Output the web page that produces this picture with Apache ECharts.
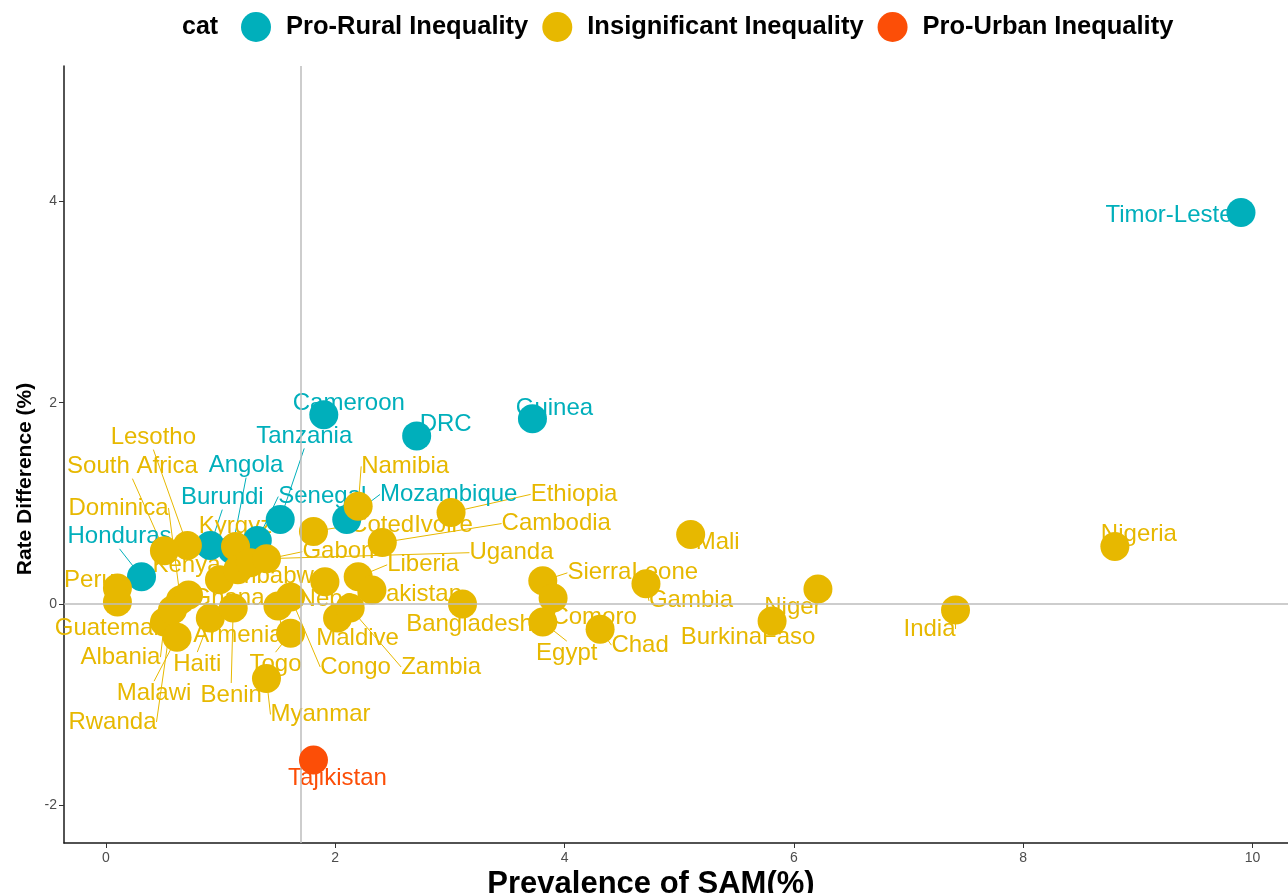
<!DOCTYPE html>
<html>
<head>
<meta charset="utf-8">
<script src="https://cdn.jsdelivr.net/npm/echarts@6/dist/echarts.min.js"></script>
<style>
  html, body { margin: 0; padding: 0; background: #fff; }
  #chart { width: 1288px; height: 893px; }
</style>
</head>
<body>
<div id="chart"></div>
<script>
const categories = ["Pro-Rural Inequality", "Insignificant Inequality", "Pro-Urban Inequality"];
const colors = ["#00AFBB", "#E7B800", "#FC4E07"];

const countries = [
  "Timor-Leste", "Guinea", "DRC", "Cameroon", "Tanzania", "Senegal", "Mozambique", "Angola", "Burundi", "Honduras",
  "Tajikistan",
  "Lesotho", "South Africa", "Dominica", "Peru", "Guatemala", "Albania", "Haiti", "Malawi", "Rwanda", "Kenya",
  "Ghana", "Kyrgyz", "Zimbabwe", "Armenia", "Benin", "Togo", "Myanmar", "Gabon", "Nepal", "Maldive",
  "Congo", "Zambia", "Namibia", "CotedIvoire", "Liberia", "Pakistan", "Ethiopia", "Cambodia", "Uganda", "Bangladesh",
  "SierraLeone", "Comoro", "Egypt", "Chad", "Gambia", "Mali", "Niger", "BurkinaFaso", "India", "Nigeria"
];
const prevalence = [
  9.90, 3.72, 2.71, 1.90, 1.52, 1.32, 2.10, 1.10, 0.91, 0.31,
  1.81,
  0.71, 0.51, 0.65, 0.10, 0.10, 0.51, 0.91, 0.62, 0.58, 0.99,
  0.72, 1.13, 1.15, 1.50, 1.11, 1.61, 1.40, 1.26, 1.91, 2.02,
  1.61, 2.13, 2.20, 1.81, 2.20, 2.32, 3.01, 2.41, 1.40, 3.11,
  3.81, 3.90, 3.81, 4.31, 4.71, 5.10, 6.21, 5.81, 7.41, 8.80
];
const rateDiff = [
  3.89, 1.84, 1.67, 1.88, 0.84, 0.63, 0.84, 0.54, 0.58, 0.27,
  -1.55,
  0.58, 0.53, 0.04, 0.16, 0.02, -0.18, -0.14, -0.33, -0.06, 0.24,
  0.09, 0.57, 0.34, -0.02, -0.04, -0.29, -0.74, 0.41, 0.22, -0.14,
  0.07, -0.04, 0.97, 0.72, 0.27, 0.14, 0.91, 0.61, 0.45, 0.00,
  0.23, 0.06, -0.18, -0.25, 0.20, 0.69, 0.15, -0.17, -0.06, 0.57
];
const category = [
  0, 0, 0, 0, 0, 0, 0, 0, 0, 0,
  2,
  1, 1, 1, 1, 1, 1, 1, 1, 1, 1,
  1, 1, 1, 1, 1, 1, 1, 1, 1, 1,
  1, 1, 1, 1, 1, 1, 1, 1, 1, 1,
  1, 1, 1, 1, 1, 1, 1, 1, 1, 1
];

// reference lines
const refX = 1.7;
const refY = 0;
const xTicks = [0, 2, 4, 6, 8, 10];
const yTicks = [-2, 0, 2, 4];

// repelled label offsets in px (label centre minus point centre)
const labelDx = [
  -72, 22, 29, 25, 24, 65, 102, 14, 12, -22,
  24,
  -34, -32, -62, -28, -4, -44, -13, -23, -60, -33,
  40, 0, 34, -40, -2, -15, 54, 88, 5, 20,
  65, 91, 47, 98, 65, 44, 123, 174, 245, 7,
  90, 41, 24, 40, 45, 27, -25, -24, -26, 24
];
const labelDy = [
  3, -10, -12, -11, -83, -44, -25, -84, -48, -40,
  18,
  -108, -84, -92, -8, 26, 35, 46, 56, 112, -14,
  3, -20, 7, 29, 87, 31, 36, -11, 18, 20,
  70, 59, -40, -6, -12, 4, -18, -19, -6, 20,
  -8, 19, 31, 16, 17, 8, 18, 16, 19, -12
];

const FONT = "Liberation Sans, Arial, sans-serif";
const chart = echarts.init(document.getElementById("chart"));

const series = [];
categories.forEach((cat, ci) => {
  const idx = countries.map((_, i) => i).filter((i) => category[i] === ci);
  series.push({
    name: cat + " labels",
    type: "scatter",
    z: 1,
    silent: true,
    symbolSize: 1,
    itemStyle: { color: "rgba(0,0,0,0)", opacity: 1 },
    data: idx.map((i) => ({
      value: [prevalence[i], rateDiff[i]],
      name: countries[i],
      // no segment when the label sits right next to its point
      labelLine: { show: Math.hypot(labelDx[i], labelDy[i]) > 32 },
    })),
    label: {
      show: true,
      position: "inside",
      formatter: (p) => p.name,
      color: colors[ci],
      opacity: 1,
      fontSize: 24,
      fontFamily: FONT,
    },
    labelLayout: (p) => ({ dx: labelDx[idx[p.dataIndex]], dy: labelDy[idx[p.dataIndex]] }),
    labelLine: { show: true, lineStyle: { color: colors[ci], width: 1, opacity: 1 } },
    markLine: ci === 0 ? {
      silent: true,
      symbol: "none",
      label: { show: false },
      lineStyle: { color: "#BDBDBD", width: 1.5, type: "solid" },
      data: [{ xAxis: refX }, { yAxis: refY }],
    } : undefined,
  });
});
categories.forEach((cat, ci) => {
  const idx = countries.map((_, i) => i).filter((i) => category[i] === ci);
  series.push({
    name: cat,
    type: "scatter",
    z: 3 + ci,
    symbolSize: 29,
    itemStyle: { color: colors[ci], opacity: 1 },
    data: idx.map((i) => [prevalence[i], rateDiff[i]]),
  });
});

const option = {
  animation: false,
  textStyle: { fontFamily: FONT },
  graphic: [
    {
      type: "text",
      left: 182,
      top: 15,
      style: { text: "cat", font: "bold 25px " + FONT, fill: "#000" },
    },
    {
      type: "text",
      x: 25,
      y: 479,
      rotation: Math.PI / 2,
      style: {
        text: "Rate Difference (%)",
        font: "bold 21px " + FONT,
        fill: "#000",
        align: "center",
        verticalAlign: "middle",
      },
    },
    {
      type: "text",
      x: 651,
      y: 884,
      style: {
        text: "Prevalence of SAM(%)",
        font: "bold 31px " + FONT,
        fill: "#000",
        align: "center",
        verticalAlign: "middle",
      },
    },
  ],
  legend: {
    data: categories,
    left: 236,
    top: 7,
    icon: "circle",
    itemWidth: 30,
    itemHeight: 30,
    itemGap: 14,
    textStyle: { fontSize: 25.5, fontWeight: "bold", color: "#000", padding: [0, 0, 0, 10] },
  },
  grid: { left: 64, right: 0, top: 66, bottom: 50, outerBoundsMode: "none", containLabel: false },
  xAxis: {
    type: "value",
    min: -0.366,
    max: 10.31,
    axisLine: { show: true, onZero: false, lineStyle: { color: "#1a1a1a", width: 1.5 } },
    axisTick: { show: true, customValues: xTicks, length: 5, lineStyle: { color: "#333" } },
    axisLabel: { customValues: xTicks, fontSize: 14, color: "#4D4D4D", margin: 8 },
    splitLine: { show: false },
  },
  yAxis: {
    type: "value",
    min: -2.374,
    max: 5.344,
    axisLine: { show: true, onZero: false, lineStyle: { color: "#1a1a1a", width: 1.5 } },
    axisTick: { show: true, customValues: yTicks, length: 5, lineStyle: { color: "#333" } },
    axisLabel: { customValues: yTicks, fontSize: 14, color: "#4D4D4D", margin: 7 },
    splitLine: { show: false },
  },
  series: series,
};

chart.setOption(option);
</script>
</body>
</html>
